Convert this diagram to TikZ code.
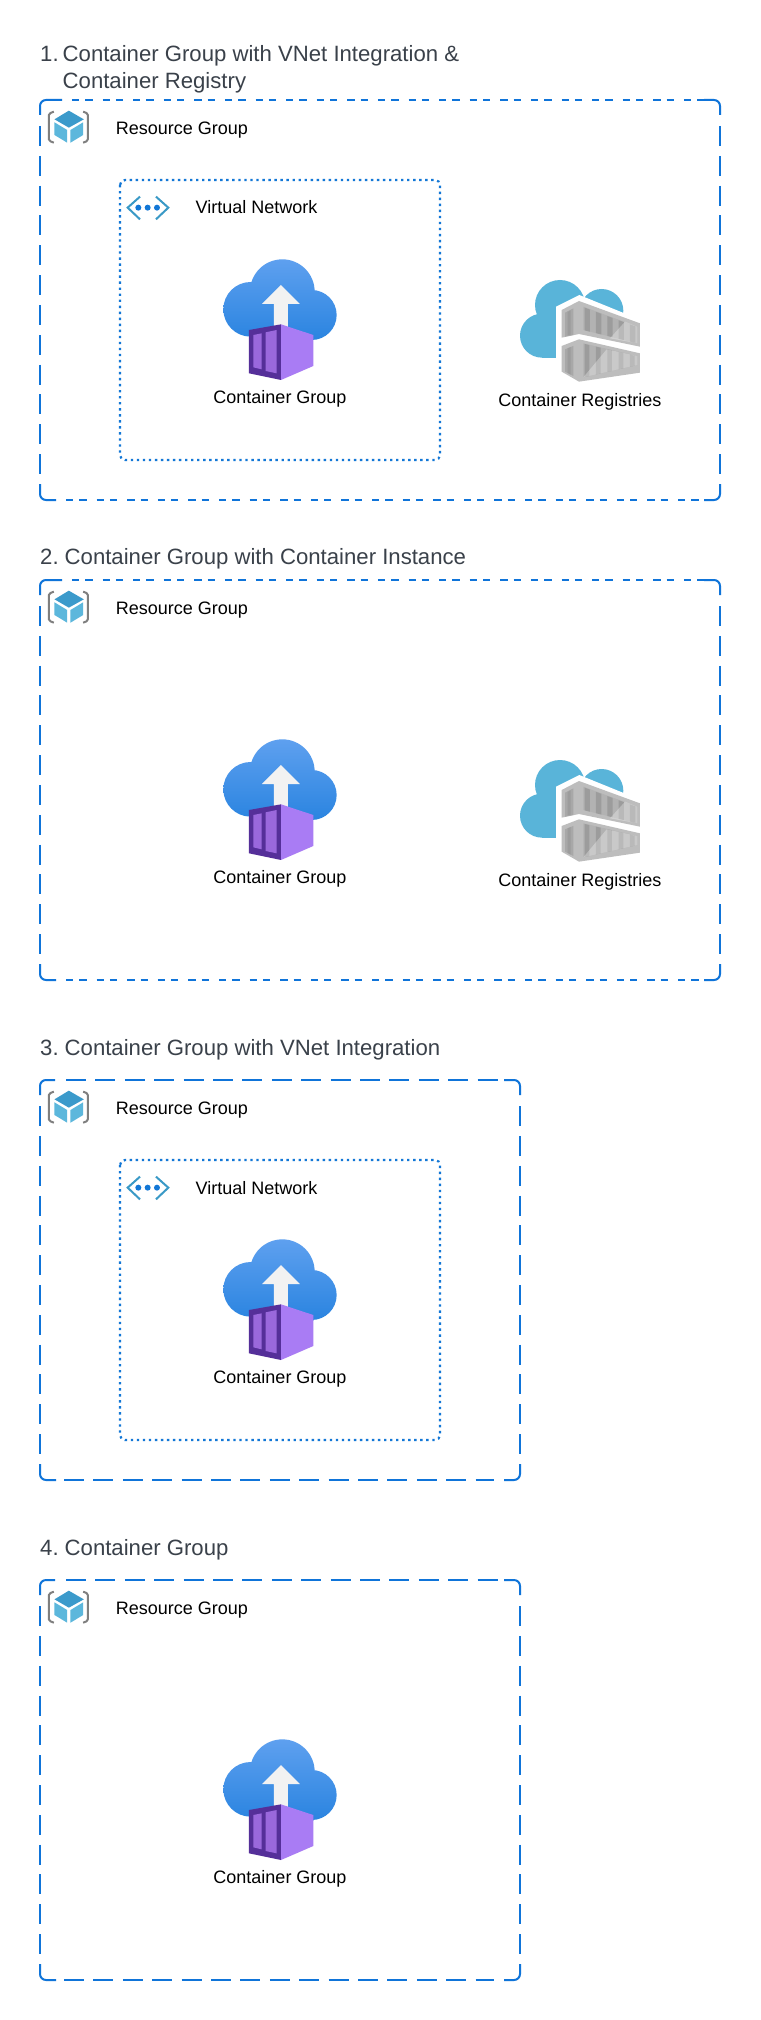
\documentclass[tikz,border=0pt]{standalone}
\usepackage{fontspec}
\setmainfont{Liberation Sans}
\definecolor{rgblue}{HTML}{0F74D9}
\definecolor{vnetblue}{HTML}{1277D6}
\definecolor{titlegray}{HTML}{3A414A}
\definecolor{cubedark}{HTML}{3B9ACB}
\definecolor{cubelight}{HTML}{5CB7DC}
\definecolor{chev}{HTML}{3999C6}
\definecolor{bracket}{HTML}{7F7F7F}
\definecolor{cloudtop}{HTML}{5EA0EF}
\definecolor{cloudbot}{HTML}{2A84E0}
\definecolor{boxlight}{HTML}{A97CF4}
\definecolor{boxdark}{HTML}{552F99}
\definecolor{boxmid}{HTML}{9A68DC}
\definecolor{regcloud}{HTML}{59B4D9}
\definecolor{regbase}{HTML}{BDBDBD}
\definecolor{regrecess}{HTML}{B2B2B2}
\definecolor{regdark}{HTML}{9C9C9C}
\definecolor{regdoor}{HTML}{A8A8A8}
\tikzset{
  x=1pt,y=-1pt,
  rgline/.style={draw=rgblue,line width=2pt},
  rgsolid/.style={rgline,rounded corners=6pt},
  rgv/.style={rgline,dash pattern=on 20pt off 9.83pt},
  rgn/.style={rgline,dash pattern=on 20pt off 9.4pt},
  rgw/.style={rgline,dash pattern=on 7.3pt off 6pt on 7.3pt off 10pt},
  vnetbox/.style={draw=vnetblue,line width=2.2pt,rounded corners=5pt,dash pattern=on 2.4pt off 3.63pt},
  lbl/.style={font=\fontsize{18}{22}\selectfont,text=black,inner sep=0pt,anchor=base},
  ttl/.style={font=\fontsize{22.15}{27}\selectfont,text=titlegray,inner sep=0pt,anchor=base west},
  pics/rgicon/.style={code={
    \begin{scope}[x=0.3333pt,y=-0.3333pt]
    \draw[bracket,line width=2pt,line join=round] (70,65)--(60,69)--(55,75)--(55,148)--(60,154)--(70,158);
    \draw[bracket,line width=2pt,line join=round] (158,65)--(168,69)--(172,75)--(172,148)--(168,154)--(158,158);
    \fill[cubedark] (115,62)--(160,88)--(115,113)--(72,88)--cycle;
    \fill[cubelight] (72,97)--(110,120)--(110,158)--(72,135)--cycle;
    \fill[cubelight] (158,97)--(120,120)--(120,158)--(158,135)--cycle;
    \end{scope}
  }},
  pics/vneticon/.style={code={
    \begin{scope}[x=0.3333pt,y=-0.3333pt]
    \draw[chev,line width=2pt] (330,320)--(293,353)--(330,388);
    \draw[chev,line width=2pt] (378,320)--(415,353)--(378,388);
    \fill[vnetblue] (325,353) circle (9) (353,353) circle (9) (381,353) circle (9);
    \end{scope}
  }},
  pics/cgicon/.style={code={
    \begin{scope}[x=0.3333pt,y=-0.3333pt]
    \foreach \clipshape in {0,1,2,3}{
      \begin{scope}
      \ifcase\clipshape
        \clip (152,208) circle (82);
      \or
        \clip (247,155) circle (97);
      \or
        \clip (335,225) circle (75);
      \or
        \clip (150,150) rectangle (340,300);
      \fi
      \shade[top color=cloudtop,bottom color=cloudbot] (60,58) rectangle (420,302);
      \end{scope}
    }
    \fill[white!95!black] (243,135)--(300,192)--(264,192)--(264,262)--(222,262)--(222,192)--(186,192)--cycle;
    \fill[boxlight] (243,253)--(340,285)--(340,378)--(243,420)--cycle;
    \fill[boxdark] (243,253)--(243,420)--(147,400)--(147,270)--cycle;
    \fill[boxmid] (160,285)--(185,280)--(185,388)--(160,382)--cycle;
    \fill[boxmid] (197,277)--(230,270)--(230,400)--(197,393)--cycle;
    \end{scope}
  }},
  pics/regicon/.style={code={
    \begin{scope}[x=0.3333pt,y=-0.3333pt]
    \fill[regcloud] (126,227) circle (66) (180,135) circle (75) (305,152) circle (65);
    \fill[regcloud] (126,150) rectangle (350,293);
    \fill[white] (168,295)--(168,140)--(238,105)--(435,185)--(435,340)--(238,375)--(168,340)--cycle;
    % upper container
    \fill[regbase] (185,150)--(237,123)--(420,190)--(420,260)--(237,222)--(185,233)--cycle;
    \fill[regdoor] (195,158)--(220,145)--(220,225)--(195,230)--cycle;
    \fill[regdark] (203,156)--(212,151)--(212,224)--(203,226)--cycle;
    \fill[regrecess] (250,140)--(412,200)--(412,250)--(250,210)--cycle;
    \foreach \a in {254,288,322,356,390}{
      \fill[regdark] (\a,141+\a*0.37-92)--(\a+16,141+\a*0.37-86)--(\a+16,210+\a*0.245-57)--(\a,210+\a*0.245-61)--cycle;
    }
    \fill[white,opacity=0.3] (330,235)--(375,185)--(412,200)--(412,250)--cycle;
    % lower container
    \fill[regbase] (185,258)--(237,238)--(420,280)--(420,338)--(237,365)--(185,335)--cycle;
    \fill[regdoor] (195,268)--(220,258)--(220,348)--(195,335)--cycle;
    \fill[regdark] (203,265)--(212,261)--(212,344)--(203,339)--cycle;
    \fill[regrecess] (250,250)--(412,288)--(412,315)--(250,352)--cycle;
    \foreach \a in {254,288,322,356,390}{
      \fill[regdark] (\a,251+\a*0.235-58.7)--(\a+14,251+\a*0.235-55.4)--(\a+14,352-\a*0.228+54)--(\a,352-\a*0.228+57)--cycle;
    }
    \fill[white,opacity=0.3] (250,352)--(320,268)--(412,288)--(412,315)--cycle;
    \end{scope}
  }},
}
\newcommand{\framecorners}[5]{% l t r b toplen
  \draw[rgsolid] (#1,#2+15)--(#1,#2)--(#1+#5,#2);
  \draw[rgsolid] (#3-16,#2)--(#3,#2)--(#3,#2+15);
  \draw[rgsolid] (#1,#4-16)--(#1,#4)--(#1+16,#4);
  \draw[rgsolid] (#3-16,#4)--(#3,#4)--(#3,#4-16);
  \draw[rgv] (#1,#2+26)--(#1,#4-26.5);
  \draw[rgv] (#3,#2+26)--(#3,#4-26.5);
}
\newcommand{\wideframe}[2]{% top bottom
  \framecorners{40}{#1}{720}{#2}{22}
  \draw[rgw] (71.9,#1)--(704,#1);
  \draw[rgw] (66,#2)--(700,#2);
}
\newcommand{\narrowframe}[2]{% top bottom
  \framecorners{40}{#1}{520}{#2}{15}
  \draw[rgn] (66,#1)--(498,#1);
  \draw[rgn] (64,#2)--(494,#2);
}
\begin{document}
\begin{tikzpicture}
\useasboundingbox[fill=white] (0,0) rectangle (760,2020);
% Section 1
\node[ttl] (t1a) at (40,61.5) {1.};
\node[ttl] (t1b) at (62.5,61.5) {Container Group with VNet Integration \&};
\node[ttl] (t1c) at (62.5,88.5) {Container Registry};
\wideframe{100}{500}
\pic at (30.5,90) {rgicon};
\node[lbl] (r1) at (182,134.5) {Resource Group};
\draw[vnetbox] (120,180) rectangle (440,460);
\pic at (30,90) {vneticon};
\node[lbl] (v1) at (256.5,214) {Virtual Network};
\pic at (200,240) {cgicon};
\node[lbl] (c1) at (280,403.5) {Container Group};
\pic at (500,260) {regicon};
\node[lbl] (q1) at (580,406) {Container Registries};
% Section 2
\node[ttl] (t2a) at (40,564.3) {2.};
\node[ttl] (t2b) at (64.5,564.3) {Container Group with Container Instance};
\wideframe{580}{980}
\pic at (30.5,570) {rgicon};
\node[lbl] (r2) at (182,614.5) {Resource Group};
\pic at (200,720) {cgicon};
\node[lbl] (c2) at (280,883.5) {Container Group};
\pic at (500,740) {regicon};
\node[lbl] (q2) at (580,886) {Container Registries};
% Section 3
\node[ttl] (t3a) at (40,1055) {3.};
\node[ttl] (t3b) at (64.5,1055) {Container Group with VNet Integration};
\narrowframe{1080}{1480}
\pic at (30.5,1070) {rgicon};
\node[lbl] (r3) at (182,1114.5) {Resource Group};
\draw[vnetbox] (120,1160) rectangle (440,1440);
\pic at (30,1070) {vneticon};
\node[lbl] (v3) at (256.5,1194) {Virtual Network};
\pic at (200,1220) {cgicon};
\node[lbl] (c3) at (280,1383.5) {Container Group};
% Section 4
\node[ttl] (t4a) at (40,1555) {4.};
\node[ttl] (t4b) at (64.5,1555) {Container Group};
\narrowframe{1580}{1980}
\pic at (30.5,1570) {rgicon};
\node[lbl] (r4) at (182,1614.5) {Resource Group};
\pic at (200,1720) {cgicon};
\node[lbl] (c4) at (280,1883.5) {Container Group};
\end{tikzpicture}
\end{document}
